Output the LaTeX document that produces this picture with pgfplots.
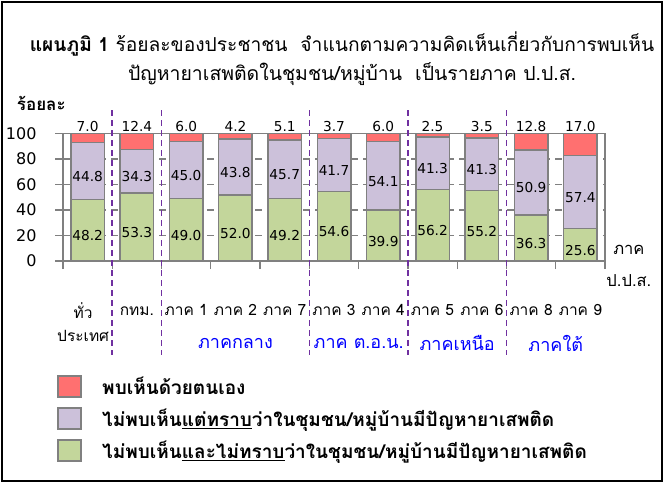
\documentclass[border=0pt]{standalone}
\usepackage{pgfplots}
\pgfplotsset{compat=1.18}
\usepackage{pgfplotstable}
\usepackage{fontspec}
\setmainfont[Script=Thai]{Loma}
\newfontfamily\numfont{DejaVu Sans}
\definecolor{cred}{HTML}{FF7070}
\definecolor{clav}{HTML}{CCC1DA}
\definecolor{cgreen}{HTML}{C3D69B}
\definecolor{cedge}{HTML}{808080}
\definecolor{cpurple}{HTML}{7030A0}
\definecolor{cblue}{HTML}{0000FF}
\pgfplotsset{sqlegend/.style={legend image code/.code={\draw[##1, line width=2pt] (0pt,-10.5pt) rectangle (23pt,10.5pt);}}}

\pgfplotstableread{
x g l r
0 48.2 44.8 7.0
1 53.3 34.3 12.4
2 49.0 45.0 6.0
3 52.0 43.8 4.2
4 49.2 45.7 5.1
5 54.6 41.7 3.7
6 39.9 54.1 6.0
7 56.2 41.3 2.5
8 55.2 41.3 3.5
9 36.3 50.9 12.8
10 25.6 57.4 17.0
}\datatable

\begin{document}
\begin{tikzpicture}[x=1pt,y=1pt]
\useasboundingbox (0,0) rectangle (666,-482);
\draw[line width=2pt] (1.5,-1.5) rectangle (662,-481);
\node[font=\fontsize{19.2}{23}\selectfont] at (342,-44) {\textbf{แผนภูมิ 1} ร้อยละของประชาชน\ \ จำแนกตามความคิดเห็นเกี่ยวกับการพบเห็น};
\node[font=\fontsize{19.4}{23}\selectfont] at (352,-74) {ปัญหายาเสพติดในชุมชน/หมู่บ้าน\ \ เป็นรายภาค ป.ป.ส.};
\begin{axis}[
  at={(63pt,-261pt)}, anchor=south west,
  scale only axis, width=542pt, height=127.4pt,
  ybar stacked, bar width=0.68,
  xmin=-0.5, xmax=10.5, ymin=0, ymax=100,
  clip=false,
  axis line style={cedge, line width=1.3pt},
  ytick={0,20,40,60,80,100},
  ytick pos=left, xtick pos=bottom,
  tick align=outside, major tick length=8pt,
  tick style={cedge, line width=1.3pt},
  ymajorgrids, major grid style={cedge, line width=1.3pt, dash pattern=on 7pt off 5pt},
  xtick={-0.5,0.5,...,10.5}, xticklabel=\empty,
  extra x ticks={0,1,...,10},
  extra x tick labels={\raisebox{-26pt}{\begin{tabular}[b]{@{}c@{}}ทั่ว\\ประเทศ\end{tabular}}\hspace*{9pt}, กทม., ภาค 1, ภาค 2, ภาค 7, ภาค 3, ภาค 4, ภาค 5, ภาค 6, ภาค 8, ภาค 9},
  extra x tick style={major tick length=0pt, grid=none,
    xticklabel style={font=\fontsize{15.5}{23}\selectfont, anchor=base, yshift=-54pt}},
  /pgf/number format/assume math mode=true,
  yticklabel style={font=\numfont\fontsize{16}{16}\selectfont, xshift=-15pt},
  ylabel={\textbf{ร้อยละ}},
  ylabel style={rotate=-90, at={(axis description cs:-0.04,1.24)}, anchor=center, font=\fontsize{17}{18}\selectfont},
  xlabel={ภาค\\ป.ป.ส.},
  xlabel style={at={(axis description cs:1.044,-0.04)}, anchor=center, align=center, font=\fontsize{16.5}{32}\selectfont},
  legend style={at={(axis description cs:-0.011,-0.856)}, anchor=north west, draw=none, fill=none, inner sep=0pt,
    font=\bfseries\fontsize{19}{20}\selectfont, nodes={minimum height=32pt, inner sep=0pt},
    /tikz/every odd column/.append style={column sep=20pt}},
  legend cell align=left,
  reverse legend,
  nodes near coords={\pgfmathprintnumber[fixed,fixed zerofill,precision=1]{\pgfplotspointmeta}},
  point meta=explicit,
]
\addplot[fill=cgreen, draw=cedge, line width=1.5pt, sqlegend,
  every node near coord/.append style={font=\numfont\fontsize{13.7}{14}\selectfont, text=black, anchor=center, yshift=-5.5pt}]
  table[x=x, y=g, meta=g]{\datatable};
\addlegendentry{ไม่พบเห็น\underline{และไม่ทราบ}ว่าในชุมชน/หมู่บ้านมีปัญหายาเสพติด}
\addplot[fill=clav, draw=cedge, line width=1.5pt, sqlegend,
  every node near coord/.append style={font=\numfont\fontsize{13.7}{14}\selectfont, text=black, anchor=center, yshift=-5.5pt}]
  table[x=x, y=l, meta=l]{\datatable};
\addlegendentry{ไม่พบเห็น\underline{แต่ทราบ}ว่าในชุมชน/หมู่บ้านมีปัญหายาเสพติด}
\addplot[fill=cred, draw=cedge, line width=1.5pt, sqlegend,
  visualization depends on={\thisrow{r}\as\seg},
  every node near coord/.append style={font=\numfont\fontsize{13.7}{14}\selectfont, text=black, anchor=base, yshift={0.637*\seg+2}}]
  table[x=x, y=r, meta=r]{\datatable};
\addlegendentry{พบเห็นด้วยตนเอง}
\pgfplotsinvokeforeach{0.5,1.5,4.5,6.5,8.5}{
  \draw[cpurple, line width=1.6pt, dash pattern=on 6pt off 4pt] (axis cs:#1,118.5) -- (axis cs:#1,-73.8);
}
\node[cblue, font=\fontsize{18}{20}\selectfont] at (axis cs:3,-64.4) {ภาคกลาง};
\node[cblue, font=\fontsize{18}{20}\selectfont] at (axis cs:5.5,-64.4) {ภาค ต.อ.น.};
\node[cblue, font=\fontsize{18}{20}\selectfont] at (axis cs:7.5,-64.4) {ภาคเหนือ};
\node[cblue, font=\fontsize{18}{20}\selectfont] at (axis cs:9.5,-64.4) {ภาคใต้};
\end{axis}
\end{tikzpicture}
\end{document}
